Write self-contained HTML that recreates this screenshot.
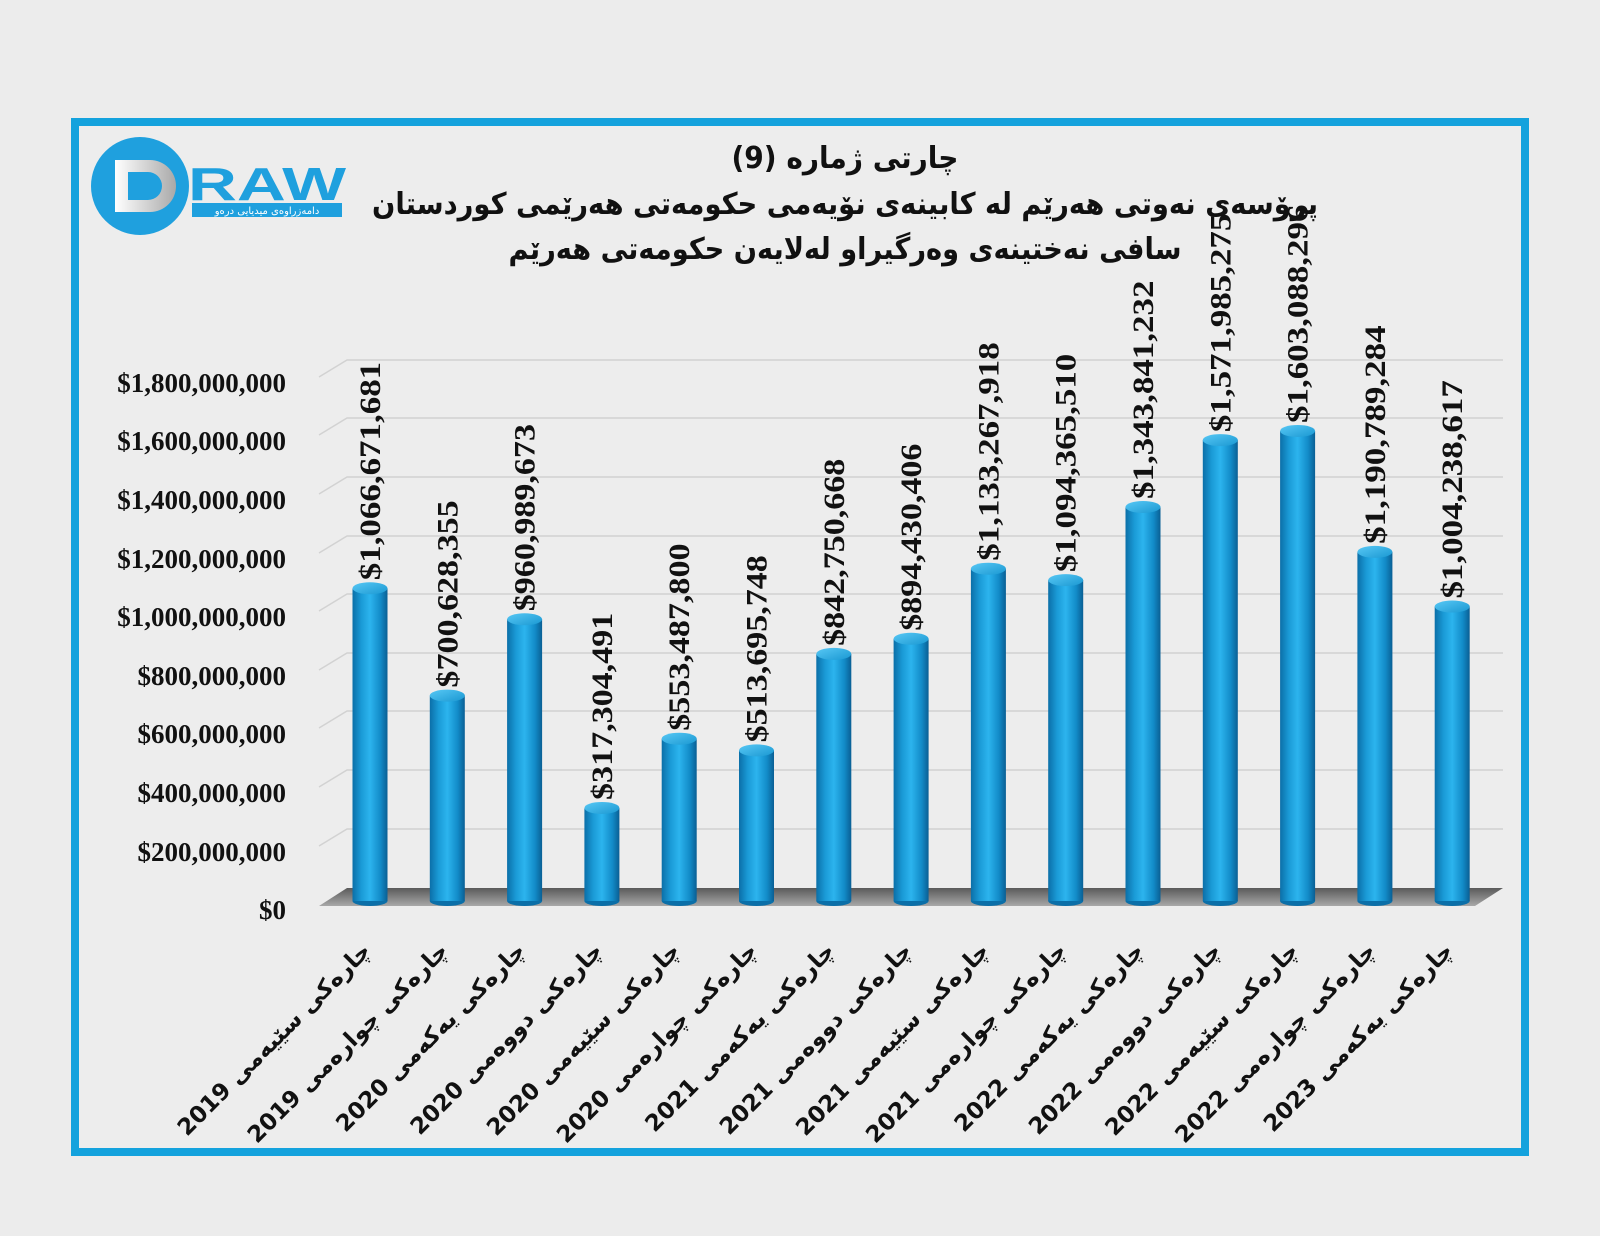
<!DOCTYPE html>
<html><head><meta charset="utf-8"><style>
html,body{margin:0;padding:0;background:#ececec;}
svg{display:block}
</style></head><body>
<svg width="1600" height="1236" viewBox="0 0 1600 1236" xmlns="http://www.w3.org/2000/svg">
<defs>
<linearGradient id="cyl" x1="0" x2="1" y1="0" y2="0">
<stop offset="0" stop-color="#0b6fa8"/>
<stop offset="0.25" stop-color="#1a9ad6"/>
<stop offset="0.5" stop-color="#2cb4ee"/>
<stop offset="0.8" stop-color="#128bc8"/>
<stop offset="1" stop-color="#0a5f94"/>
</linearGradient>
<linearGradient id="cap" x1="0" x2="1" y1="0" y2="1">
<stop offset="0" stop-color="#58c8f5"/>
<stop offset="1" stop-color="#1a98d2"/>
</linearGradient>
<linearGradient id="floor" x1="0" x2="0" y1="0" y2="1">
<stop offset="0" stop-color="#5a5a5a"/>
<stop offset="1" stop-color="#a8a8a8"/>
</linearGradient>
<linearGradient id="dgrad" x1="0" x2="1">
<stop offset="0" stop-color="#ffffff"/>
<stop offset="1" stop-color="#a9a9a9"/>
</linearGradient>
</defs>
<rect x="0" y="0" width="1600" height="1236" fill="#ececec"/>
<rect x="75" y="122" width="1450" height="1030" fill="#ededed" stroke="#14a2dd" stroke-width="8"/>

<circle cx="140" cy="186" r="49" fill="#1fa0de"/>
<path d="M115 160 L150 160 A26 26 0 0 1 150 212 L115 212 Z M128 172 L128 200 L148 200 A14 14 0 0 0 148 172 Z" fill="url(#dgrad)" fill-rule="evenodd"/>
<text x="188" y="200" font-family="Liberation Sans, sans-serif" font-weight="bold" font-size="46" fill="#1fa0de" textLength="158" lengthAdjust="spacingAndGlyphs">RAW</text>
<rect x="192" y="203" width="150" height="14" fill="#1fa0de"/>
<text x="267" y="214" text-anchor="middle" font-family="DejaVu Sans, sans-serif" font-size="10" fill="#fff">دامەزراوەی میدیایی درەو</text>

<g font-family="DejaVu Sans, sans-serif" font-weight="bold" fill="#111" text-anchor="middle">
<text x="845" y="168" font-size="30" textLength="227" lengthAdjust="spacingAndGlyphs">چارتی ژمارە (9)</text>
<text x="845" y="214" font-size="30" textLength="946" lengthAdjust="spacingAndGlyphs">پرۆسەی نەوتی هەرێم لە کابینەی نۆیەمی حکومەتی هەرێمی کوردستان</text>
<text x="845" y="259" font-size="30" textLength="673" lengthAdjust="spacingAndGlyphs">سافی نەختینەی وەرگیراو لەلایەن حکومەتی هەرێم</text>
</g>

<g stroke="#d2d2d2" stroke-width="1.5" fill="none">
<path d="M319 377 L347 360 L1503 360"/>
<path d="M319 435 L347 418 L1503 418"/>
<path d="M319 494 L347 477 L1503 477"/>
<path d="M319 553 L347 536 L1503 536"/>
<path d="M319 611 L347 594 L1503 594"/>
<path d="M319 670 L347 653 L1503 653"/>
<path d="M319 728 L347 711 L1503 711"/>
<path d="M319 787 L347 770 L1503 770"/>
<path d="M319 846 L347 829 L1503 829"/>
</g>
<polygon points="347,888 1503,888 1475,906 319,906" fill="url(#floor)"/>

<g font-family="Liberation Serif, serif" font-weight="bold" font-size="27" fill="#111" text-anchor="end">
<text x="286" y="392">$1,800,000,000</text>
<text x="286" y="450">$1,600,000,000</text>
<text x="286" y="509">$1,400,000,000</text>
<text x="286" y="568">$1,200,000,000</text>
<text x="286" y="626">$1,000,000,000</text>
<text x="286" y="685">$800,000,000</text>
<text x="286" y="743">$600,000,000</text>
<text x="286" y="802">$400,000,000</text>
<text x="286" y="861">$200,000,000</text>
<text x="286" y="919">$0</text>
</g>

<g id="bars"></g>
<g id="vals" font-family="Liberation Serif, serif" font-weight="bold" font-size="30" fill="#111"></g>
<g id="xl" font-family="DejaVu Sans, sans-serif" font-weight="bold" font-size="23" fill="#111"></g>
<script>
(function(){
var vals=[1066671681,700628355,960989673,317304491,553487800,513695748,842750668,894430406,1133267918,1094365510,1343841232,1571985275,1603088296,1190789284,1004238617];
var labs=["2019 چارەکی سێیەمی","2019 چارەکی چوارەمی","2020 چارەکی یەکەمی","2020 چارەکی دووەمی","2020 چارەکی سێیەمی","2020 چارەکی چوارەمی","2021 چارەکی یەکەمی","2021 چارەکی دووەمی","2021 چارەکی سێیەمی","2021 چارەکی چوارەمی","2022 چارەکی یەکەمی","2022 چارەکی دووەمی","2022 چارەکی سێیەمی","2022 چارەکی چوارەمی","2023 چارەکی یەکەمی"];
var NS="http://www.w3.org/2000/svg";
function el(t,a,p){var e=document.createElementNS(NS,t);for(var k in a)e.setAttribute(k,a[k]);p.appendChild(e);return e;}
var B=document.getElementById('bars'),V=document.getElementById('vals'),X=document.getElementById('xl');
for(var i=0;i<15;i++){
 var cx=370+i*77.3,w=35,bot=901,ty=bot-vals[i]/1e6*0.2932;
 el('ellipse',{cx:cx,cy:bot,rx:w/2,ry:5,fill:'#0b6fa8'},B);
 el('rect',{x:cx-w/2,y:ty,width:w,height:bot-ty,fill:'url(#cyl)'},B);
 el('ellipse',{cx:cx,cy:ty,rx:w/2,ry:6,fill:'url(#cap)'},B);
 var s='$'+vals[i].toString().replace(/\B(?=(\d{3})+(?!\d))/g,',');
 var t=el('text',{transform:'translate('+(cx+10)+','+(ty-8)+') rotate(-90)',textLength:(s.length*15.6).toFixed(1),lengthAdjust:'spacingAndGlyphs'},V);t.textContent=s;
 var x=el('text',{transform:'translate('+(cx+2)+',952) rotate(-45)','text-anchor':'end'},X);x.textContent=labs[i];
}
})();
</script>
</svg>
</body></html>
